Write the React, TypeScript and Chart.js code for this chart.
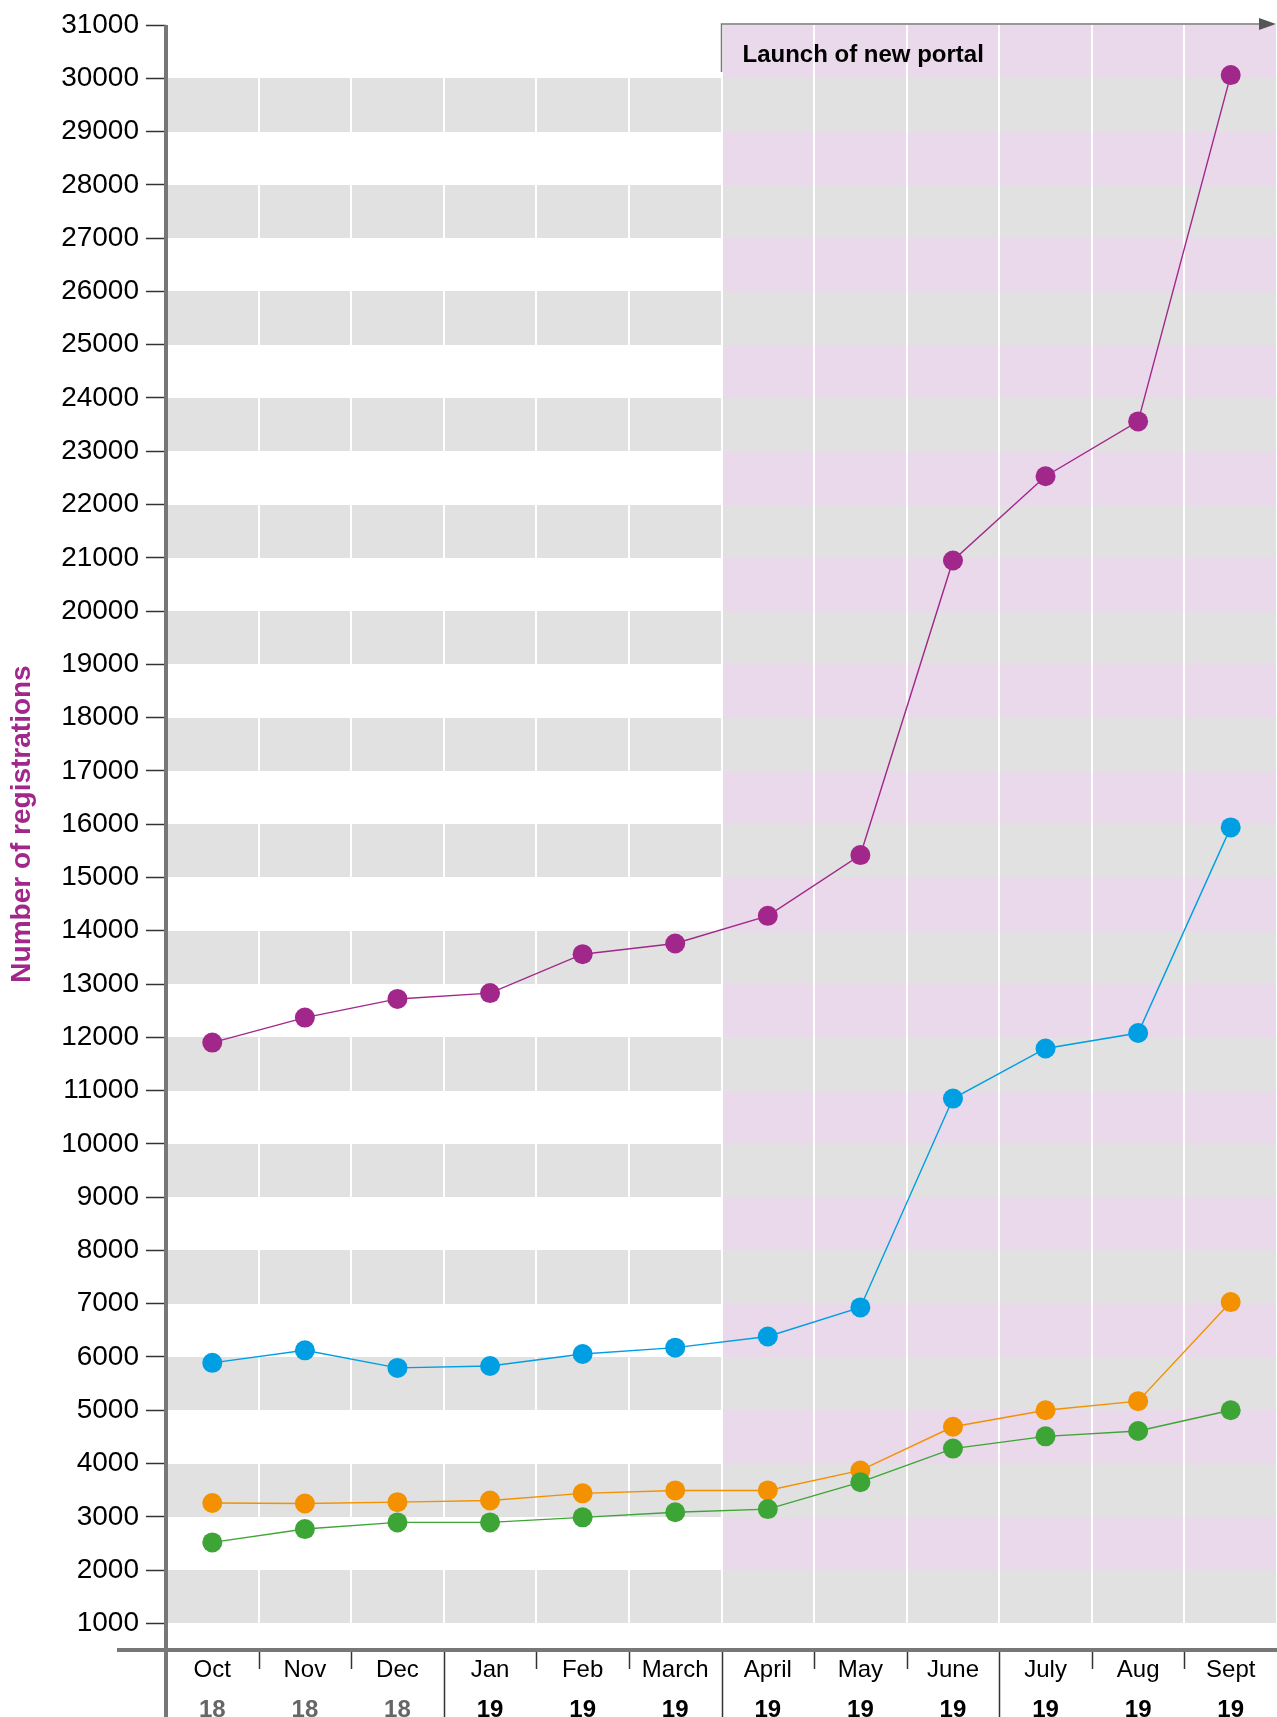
import React, { useEffect, useRef } from 'react';
import { Chart, registerables } from 'chart.js';

Chart.register(...registerables);

// ---------- data ----------
const MONTHS = ['Oct', 'Nov', 'Dec', 'Jan', 'Feb', 'March', 'April', 'May', 'June', 'July', 'Aug', 'Sept'];
const YEARS = ['18', '18', '18', '19', '19', '19', '19', '19', '19', '19', '19', '19'];
const Y_TICKS = [
  1000, 2000, 3000, 4000, 5000, 6000, 7000, 8000, 9000, 10000,
  11000, 12000, 13000, 14000, 15000, 16000, 17000, 18000, 19000, 20000,
  21000, 22000, 23000, 24000, 25000, 26000, 27000, 28000, 29000, 30000, 31000,
];
const Y_MIN = 500;
const Y_MAX = 31000;

const SERIES_PURPLE = [11900, 12370, 12720, 12830, 13560, 13760, 14280, 15420, 20950, 22530, 23560, 30060];
const SERIES_BLUE = [5890, 6125, 5795, 5830, 6055, 6175, 6385, 6930, 10850, 11790, 12080, 15940];
const SERIES_GREEN = [2520, 2770, 2895, 2895, 2990, 3085, 3145, 3650, 4280, 4510, 4610, 5000];
const SERIES_ORANGE = [3260, 3250, 3275, 3305, 3440, 3495, 3495, 3870, 4690, 5000, 5170, 7030];

const LAUNCH_INDEX = 6;
const LAUNCH_LABEL = 'Launch of new portal';
const Y_TITLE = 'Number of registrations';

// ---------- styles ----------
const FONT = "'Liberation Sans', Arial, sans-serif";
const PURPLE = '#A1288A';
const BLUE = '#009EE2';
const GREEN = '#3DA535';
const ORANGE = '#F39100';
const GRAY_BAND = '#E1E1E1';
const PINK_BAND = '#E9D9EA';
const AXIS_GRAY = '#777777';

const decorPlugin = {
  id: 'decor',
  beforeDraw(chart: any) {
    const { ctx, chartArea, scales } = chart;
    const { left, right } = chartArea;
    const x = scales.x;
    const y = scales.y;
    const launchX = (x.getPixelForValue(LAUNCH_INDEX - 1) + x.getPixelForValue(LAUNCH_INDEX)) / 2;
    ctx.save();
    for (let i = 0; i < Y_TICKS.length - 1; i++) {
      const yTop = Math.round(y.getPixelForValue(Y_TICKS[i + 1]));
      const yBot = Math.round(y.getPixelForValue(Y_TICKS[i]));
      if (i % 2 === 0) {
        ctx.fillStyle = GRAY_BAND;
        ctx.fillRect(left, yTop, right - left, yBot - yTop);
      } else {
        ctx.fillStyle = PINK_BAND;
        ctx.fillRect(launchX, yTop, right - launchX, yBot - yTop);
      }
    }
    ctx.restore();
  },
  afterDraw(chart: any) {
    const { ctx, chartArea, scales, height } = chart;
    const { left, right, top, bottom } = chartArea;
    const x = scales.x;
    const launchX = (x.getPixelForValue(LAUNCH_INDEX - 1) + x.getPixelForValue(LAUNCH_INDEX)) / 2;
    ctx.save();

    // category separators below the axis
    ctx.strokeStyle = '#333333';
    ctx.lineWidth = 1.5;
    for (let i = 1; i < MONTHS.length; i++) {
      const bx = Math.round((x.getPixelForValue(i - 1) + x.getPixelForValue(i)) / 2) + 0.5;
      ctx.beginPath();
      ctx.moveTo(bx, bottom);
      ctx.lineTo(bx, i % 3 === 0 ? height : bottom + 19);
      ctx.stroke();
    }

    // axis lines
    ctx.strokeStyle = AXIS_GRAY;
    ctx.lineWidth = 4;
    ctx.beginPath();
    ctx.moveTo(left, top);
    ctx.lineTo(left, height);
    ctx.stroke();
    ctx.beginPath();
    ctx.moveTo(117, bottom);
    ctx.lineTo(right, bottom);
    ctx.stroke();

    // launch bracket + arrow
    ctx.strokeStyle = AXIS_GRAY;
    ctx.lineWidth = 1.5;
    ctx.beginPath();
    ctx.moveTo(launchX, top + 47);
    ctx.lineTo(launchX, top - 1);
    ctx.lineTo(right - 16, top - 1);
    ctx.stroke();
    ctx.fillStyle = '#555555';
    ctx.beginPath();
    ctx.moveTo(right - 1, top - 1);
    ctx.lineTo(right - 18, top - 7);
    ctx.lineTo(right - 18, top + 5);
    ctx.closePath();
    ctx.fill();

    ctx.fillStyle = '#000000';
    ctx.font = `bold 24px ${FONT}`;
    ctx.textAlign = 'left';
    ctx.textBaseline = 'alphabetic';
    ctx.fillText(LAUNCH_LABEL, launchX + 21, top + 37);

    // y-axis title
    ctx.translate(22, 824);
    ctx.rotate(-Math.PI / 2);
    ctx.fillStyle = PURPLE;
    ctx.font = `bold 28px ${FONT}`;
    ctx.textAlign = 'center';
    ctx.textBaseline = 'middle';
    ctx.fillText(Y_TITLE, 0, 0);
    ctx.restore();
  },
};

function makeDataset(label: string, data: number[], color: string) {
  return {
    label,
    data,
    borderColor: color,
    backgroundColor: color,
    pointBackgroundColor: color,
    pointBorderColor: color,
    pointBorderWidth: 0,
    pointRadius: 10,
    borderWidth: 1.4,
    tension: 0,
    xAxisID: 'x',
    yAxisID: 'y',
  };
}

function fixHorizontal(h: number) {
  return (s: any) => {
    s.height = h;
    s.paddingLeft = 0;
    s.paddingRight = 0;
  };
}

export default function App() {
  const canvasRef = useRef<HTMLCanvasElement | null>(null);

  useEffect(() => {
    document.body.style.margin = '0';
    document.body.style.overflow = 'hidden';
    document.documentElement.style.overflow = 'hidden';
    if (!canvasRef.current) return;
    const chart = new Chart(canvasRef.current, {
      type: 'line',
      data: {
        labels: MONTHS,
        datasets: [
          makeDataset('Series 1', SERIES_PURPLE, PURPLE),
          makeDataset('Series 2', SERIES_BLUE, BLUE),
          makeDataset('Series 3', SERIES_GREEN, GREEN),
          makeDataset('Series 4', SERIES_ORANGE, ORANGE),
        ],
      },
      options: {
        animation: false,
        responsive: false,
        events: [],
        layout: { autoPadding: false, padding: { top: 25, left: 0, right: 0, bottom: 0 } },
        plugins: { legend: { display: false }, tooltip: { enabled: false } },
        scales: {
          x: {
            type: 'category',
            position: 'bottom',
            offset: true,
            weight: 0,
            grid: { display: true, drawOnChartArea: true, drawTicks: false, color: '#ffffff', lineWidth: 2, offset: true },
            border: { display: false },
            ticks: {
              autoSkip: false, maxRotation: 0, minRotation: 0, padding: 6, color: '#000000',
              font: { family: FONT, size: 24, lineHeight: 1.2 },
            },
            afterFit: fixHorizontal(36),
          },
          x2: {
            type: 'category',
            labels: YEARS,
            position: 'bottom',
            offset: true,
            weight: 1,
            grid: { display: false },
            border: { display: false },
            ticks: {
              autoSkip: false, maxRotation: 0, minRotation: 0, padding: 2,
              color: (c: any) => (c.index < 3 ? '#666666' : '#000000'),
              font: { family: FONT, size: 24, weight: 'bold', lineHeight: 1.2 },
            },
            afterFit: fixHorizontal(31),
          },
          y: {
            type: 'linear',
            min: Y_MIN,
            max: Y_MAX,
            afterBuildTicks: (s: any) => { s.ticks = Y_TICKS.map((v) => ({ value: v })); },
            grid: { display: true, drawOnChartArea: false, drawTicks: true, tickLength: 20, tickColor: '#333333', tickWidth: 1.5 },
            border: { display: false },
            ticks: {
              padding: 7, color: '#000000',
              font: { family: FONT, size: 28 },
              callback: (v: any) => `${v}`,
            },
            afterFit: (s: any) => {
              s.width = 166;
              s.paddingTop = 0;
              s.paddingBottom = 0;
            },
          },
        },
      } as any,
      plugins: [decorPlugin],
    });
    return () => chart.destroy();
  }, []);

  return (
    <div style={{ position: 'fixed', left: 0, top: 0, width: 1277, height: 1717, overflow: 'hidden' }}>
      <canvas ref={canvasRef} width={1277} height={1717} style={{ display: 'block' }} />
    </div>
  );
}
